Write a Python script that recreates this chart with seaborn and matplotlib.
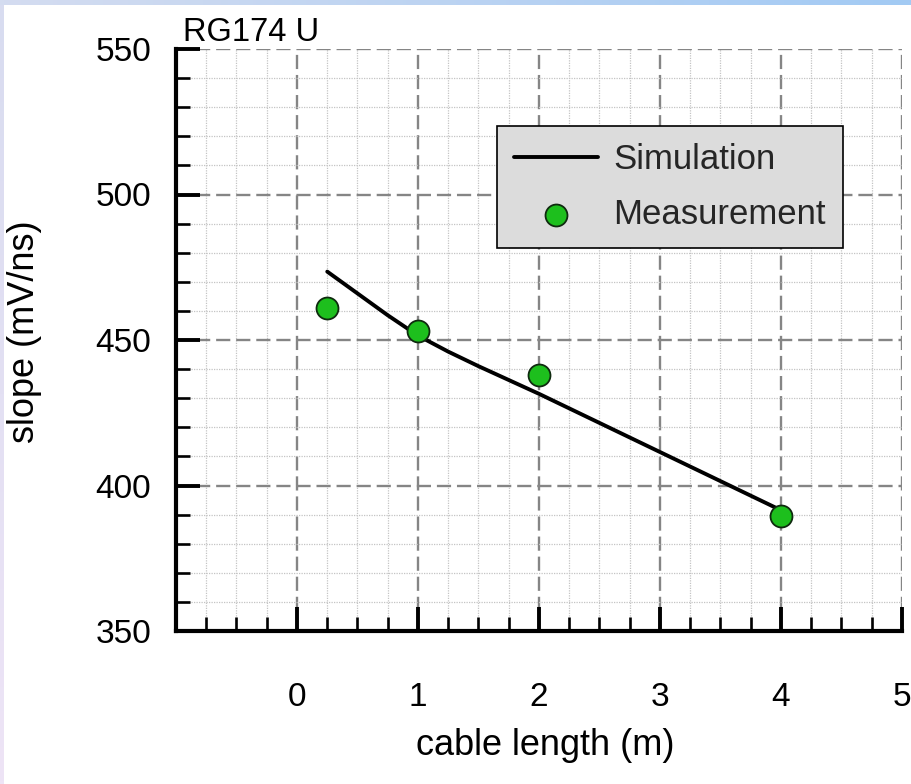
import numpy as np
import pandas as pd
import matplotlib
matplotlib.use("Agg")
import matplotlib.pyplot as plt
from matplotlib.ticker import MultipleLocator, FixedLocator, FuncFormatter
import seaborn as sns

# Simulated slope vs. cable length
sim_length = [0.25, 0.5, 0.75, 1.0, 1.25, 1.5, 2.0, 3.0, 4.0]
sim_slope = [473.5, 466.0, 458.5, 451.5, 446.0, 441.0, 431.5, 411.5, 391.5]

# Measured slope vs. cable length
meas_length = [0.25, 1.0, 2.0, 4.0]
meas_slope = [461.0, 453.0, 438.0, 389.5]

x_ticks = [-1, 0, 1, 2, 3, 4, 5]
y_ticks = [350, 400, 450, 500, 550]

sim_df = pd.DataFrame({"length": sim_length, "slope": sim_slope})
meas_df = pd.DataFrame({"length": meas_length, "slope": meas_slope})

sns.set_theme(style="white")
plt.rcParams["font.family"] = ["Liberation Sans", "DejaVu Sans"]

W, H = 912, 784
fig = plt.figure(figsize=(W / 100, H / 100), dpi=100)
fig.patch.set_facecolor("white")

# thin gradient frame along top and left edges
top = fig.add_axes([0, 1 - 5 / H, 1, 5 / H])
grad = np.linspace(0, 1, 256)[None, :, None]
c0 = np.array([212, 220, 240]) / 255
c1 = np.array([162, 202, 244]) / 255
top.imshow(c0 + (c1 - c0) * grad, aspect="auto", extent=[0, 1, 0, 1])
top.set_axis_off()
left = fig.add_axes([0, 0, 4 / W, 1 - 5 / H])
gv = np.linspace(0, 1, 256)[:, None, None]
d0 = np.array([216, 220, 240]) / 255
d1 = np.array([238, 228, 246]) / 255
left.imshow(d0 + (d1 - d0) * gv, aspect="auto", extent=[0, 1, 0, 1])
left.set_axis_off()

x0, x1, y0, y1 = 176, 902, 49, 631
ax = fig.add_axes([x0 / W, 1 - y1 / H, (x1 - x0) / W, (y1 - y0) / H])
ax.set_facecolor("white")

sns.lineplot(data=sim_df, x="length", y="slope", ax=ax, color="black",
             linewidth=2.8, label="Simulation", zorder=3)
sns.scatterplot(data=meas_df, x="length", y="slope", ax=ax, color="#1dbf1d",
                edgecolor="#0f2a0f", linewidth=1.3, s=250, label="Measurement",
                zorder=4)

ax.set_xlim(-1, 5)
ax.set_ylim(350, 550)
ax.xaxis.set_major_locator(FixedLocator(x_ticks))
ax.xaxis.set_minor_locator(MultipleLocator(0.25))
ax.yaxis.set_major_locator(FixedLocator(y_ticks))
ax.yaxis.set_minor_locator(MultipleLocator(10))
ax.xaxis.set_major_formatter(FuncFormatter(lambda v, p: "" if v < -0.5 else f"{v:.0f}"))

ax.grid(which="major", color="#858585", linestyle=(0, (6, 2.5)), linewidth=1.7)
ax.grid(which="minor", color="#c4c4c4", linestyle=(0, (1, 1)), linewidth=0.9)
ax.set_axisbelow(True)

for s in ["top", "right"]:
    ax.spines[s].set_visible(False)
for s in ["left", "bottom"]:
    ax.spines[s].set_linewidth(3.0)
    ax.spines[s].set_color("black")

ax.tick_params(which="major", direction="in", length=17, width=2.8, color="black",
               labelsize=24, labelcolor="black")
ax.tick_params(which="minor", direction="in", length=10, width=1.9, color="black")
ax.tick_params(axis="y", which="both", left=True, pad=18)
ax.tick_params(axis="x", which="both", bottom=True, pad=37)

ax.set_xlabel("cable length (m)", fontsize=26, color="black")
ax.set_ylabel("slope (mV/ns)", fontsize=26, color="black")
ax.xaxis.set_label_coords(0.508, -0.167)
ax.yaxis.set_label_coords(-0.185, 0.515)

ax.text(0.0096, 1.0137, "RG174 U", transform=ax.transAxes, fontsize=23.5,
        va="baseline", ha="left", color="black")

leg = ax.legend(loc="upper left", bbox_to_anchor=(0.442, 0.868), borderaxespad=0,
                fontsize=25, frameon=True, fancybox=False, framealpha=1,
                facecolor="#dcdcdc", edgecolor="black", handlelength=2.4,
                handletextpad=0.45, borderpad=0.5, labelspacing=0.62)
leg.get_frame().set_linewidth(1.2)

fig.savefig("out.png", dpi=100, facecolor="white")
